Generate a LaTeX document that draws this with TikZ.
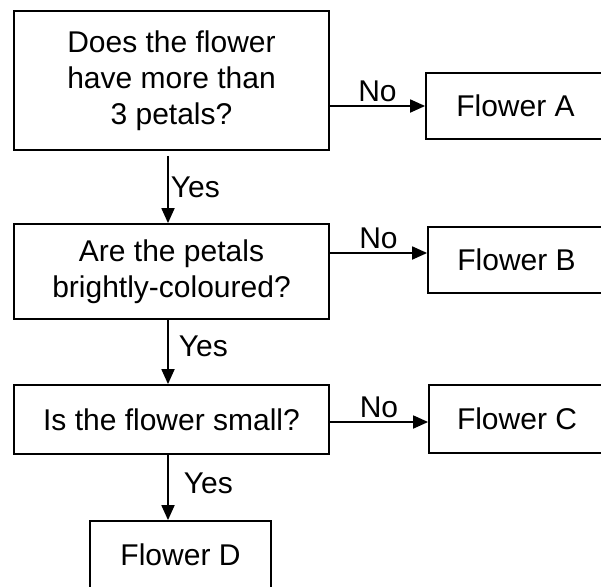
\documentclass[tikz,border=0pt]{standalone}
\usepackage{fontspec}
\setmainfont{Liberation Sans}
\usetikzlibrary{arrows.meta}

\tikzset{
  box/.style={draw, line width=1.8pt, align=center, inner sep=0pt,
    font=\fontsize{30}{36}\selectfont},
  arr/.style={line width=1.8pt, -{Triangle[length=15pt,width=13pt]}},
  lbl/.style={font=\fontsize{30}{36}\selectfont, inner sep=2pt},
}

\begin{document}
\begin{tikzpicture}[x=1pt,y=-1pt]
  \useasboundingbox (0,0) rectangle (601,586);
  \clip (0,0) rectangle (601,586);
  \fill[white] (0,0) rectangle (601,586);
  % questions
  \node[box, minimum width=315pt, minimum height=139pt] (q1) at (171.5,80.5)
    {Does the flower\\have more than\\3 petals?};
  \node[box, minimum width=315pt, minimum height=95pt] (q2) at (171.5,271.5)
    {Are the petals\\brightly-coloured?};
  \node[box, minimum width=315pt, minimum height=69pt] (q3) at (171.5,419.5)
    {Is the flower small?};
  % answers
  \node[box, minimum width=179pt, minimum height=66pt] (fa) at (515.5,106) {Flower A};
  \node[box, minimum width=177pt, minimum height=66pt] (fb) at (516.5,260) {Flower B};
  \node[box, minimum width=176pt, minimum height=68pt] (fc) at (517,419) {Flower C};
  \node[box, minimum width=181pt, minimum height=68pt] (fd) at (180.5,555) {Flower D};
  \coordinate (sp) at (168,0);
  % No
  \draw[arr] (q1.east |- fa.west) -- (fa.west)
    node[lbl, midway, above, inner sep=3pt] {No};
  \draw[arr] ([yshift=18.5pt]q2.east) -- ([yshift=7pt]fb.west)
    node[lbl, midway, above, inner sep=3pt] {No};
  \draw[arr] ([yshift=-2.5pt]q3.east) -- ([yshift=-3pt]fc.west)
    node[lbl, midway, above, inner sep=3pt] {No};
  % Yes
  \draw[arr, shorten <=5pt] (q1.south -| sp) -- (q2.north -| sp)
    node[lbl, midway, right] {Yes};
  \draw[arr] (q2.south -| sp) -- (q3.north -| sp)
    node[lbl, midway, right, xshift=8pt, yshift=6pt] {Yes};
  \draw[arr] (q3.south -| sp) -- (fd.north -| sp)
    node[lbl, midway, right, xshift=13pt, yshift=4pt] {Yes};
\end{tikzpicture}
\end{document}
